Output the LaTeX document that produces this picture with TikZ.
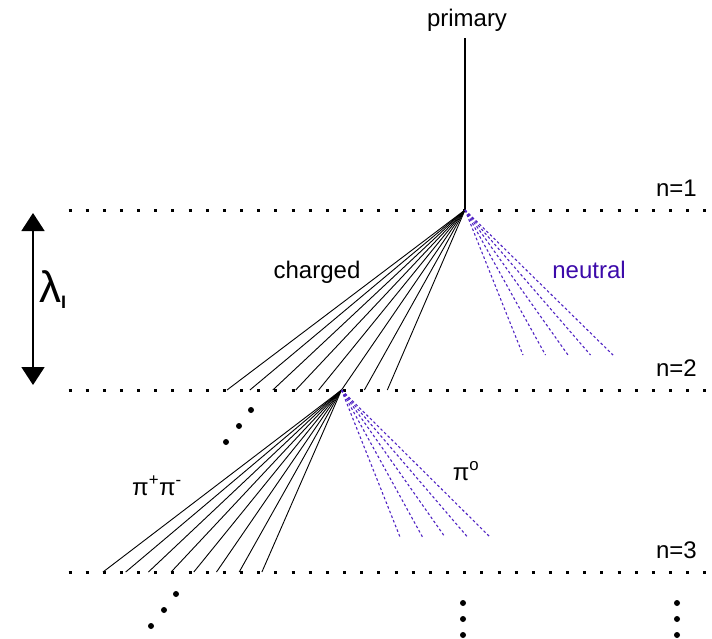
\documentclass[tikz,border=0pt]{standalone}
\usepackage{fontspec}
\setmainfont{Liberation Sans}
\usetikzlibrary{arrows.meta}
\definecolor{neutralblue}{RGB}{80,35,195}
\definecolor{neutraltext}{RGB}{60,10,170}
\tikzset{
  depthline/.style={line width=3pt,dash pattern=on 3pt off 14.16pt},
  chargedtrk/.style={line width=0.9pt,draw=black},
  neutraltrk/.style={line width=1.1pt,draw=neutralblue,dash pattern=on 2.6pt off 2.4pt},
  primaryline/.style={line width=1.8pt},
  lambdaarrow/.style={line width=1.8pt,{Triangle[width=23pt,length=18pt]}-{Triangle[width=23pt,length=18pt]}},
  moredots/.style={circle,fill=black,inner sep=0pt,minimum size=6pt},
  lbl/.style={font=\fontsize{24}{28}\selectfont,inner sep=0pt}
}

\begin{document}
\begin{tikzpicture}[x=1pt,y=-1pt]
  \useasboundingbox (0,0) rectangle (712,638);
  % generation levels
  \foreach \lv/\yy in {1/210,2/390,3/572}{
    \coordinate (L\lv) at (68.5,\yy);
    \coordinate (R\lv) at (706.5,\yy);
    \draw[depthline] (L\lv) -- (R\lv);
    \node[lbl,anchor=base east] (n\lv) at (697,\yy-14) {n=\lv};
  }
  % primary particle
  \node[lbl,anchor=base] (prim) at (467,26) {primary};
  \coordinate (top) at (465,38);
  \coordinate (v1) at (465,210);
  \draw[primaryline] (top) -- (v1);
  % first interaction
  \foreach \i in {0,...,7}{
    \coordinate (a\i) at (227+22.9*\i,390);
    \draw[chargedtrk] (v1) -- (a\i);
  }
  \foreach \i in {0,...,4}{
    \coordinate (b\i) at (523+22.5*\i,355);
    \draw[neutraltrk] (v1) -- (b\i);
  }
  \coordinate (v2) at (a5);
  % second interaction
  \foreach \i in {0,...,7}{
    \coordinate (c\i) at (103+22.7*\i,572);
    \draw[chargedtrk] (v2) -- (c\i);
  }
  \foreach \i in {0,...,4}{
    \coordinate (e\i) at (400+22.5*\i,537);
    \draw[neutraltrk] (v2) -- (e\i);
  }
  % labels
  \node[lbl,anchor=base] (chg) at (317,278) {charged};
  \node[lbl,anchor=base,text=neutraltext] (neu) at (589,278) {neutral};
  \node[lbl,anchor=base] (pipm) at (157,495) {π\textsuperscript{+}π\textsuperscript{-}};
  \node[lbl,anchor=base] (pi0) at (466,480) {π\textsuperscript{o}};
  % interaction length
  \coordinate (atop) at (33,213);
  \coordinate (abot) at (33,385);
  \draw[lambdaarrow] (atop) -- (abot);
  \node[anchor=base west,inner sep=0pt] (lam) at (39,302)
    {\fontsize{44}{44}\selectfont λ\raisebox{-6pt}{\fontsize{18}{18}\selectfont\bfseries I}};
  % continuation dots
  \foreach \x/\y [count=\k] in {251/410,239/426,226/442,176/594,164/610,151/626,
      463/603,463/619,463/635,677/603,677/619,677/635}
    \node[moredots] (d\k) at (\x,\y) {};
\end{tikzpicture}
\end{document}
